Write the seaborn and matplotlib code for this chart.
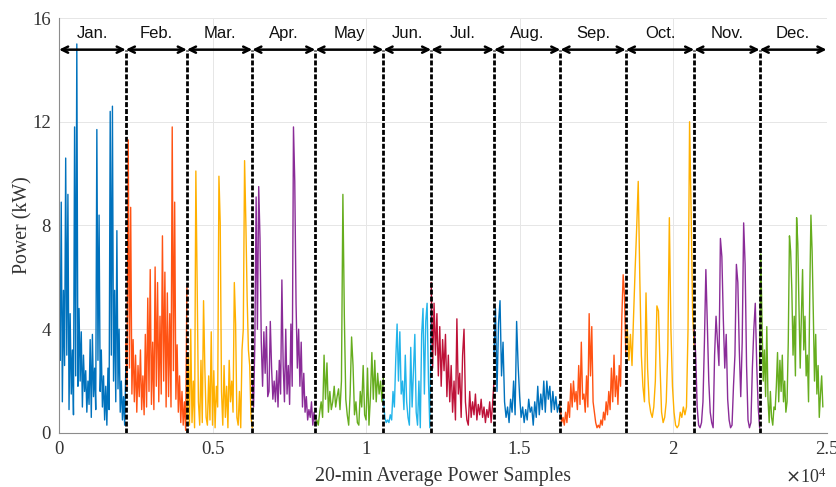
import numpy as np
import pandas as pd
import matplotlib
matplotlib.use("Agg")
import matplotlib.pyplot as plt
import seaborn as sns

months = ["Jan.", "Feb.", "Mar.", "Apr.", "May", "Jun.", "Jul.", "Aug.", "Sep.", "Oct.", "Nov.", "Dec."]
bounds = [0, 2175, 4165, 6295, 8350, 10568, 12123, 14168, 16331, 18461, 20691, 22821, 24880]

jan = [4.3, 2.8, 8.9, 1.2, 5.5, 2.6, 10.6, 3.0, 9.2, 0.9, 4.6, 1.5, 3.2, 0.7, 11.8, 2.2, 15.0, 1.8,
       4.8, 2.0, 3.9, 1.0, 3.0, 1.6, 2.4, 0.8, 2.0, 1.1, 3.6, 0.6, 3.8, 1.4, 2.5, 0.9, 11.7, 2.8,
       8.4, 1.6, 3.2, 1.0, 2.2, 0.5, 1.8, 0.3, 2.5, 0.9, 12.4, 3.0, 12.6, 2.0, 5.5, 1.2, 7.8, 1.7,
       4.0, 0.8, 2.0, 0.5, 1.4, 0.3, 2.5]
feb = [3.5, 1.8, 11.3, 2.5, 8.7, 1.5, 3.6, 1.2, 3.0, 0.8, 2.6, 1.4, 3.2, 0.9, 2.2, 0.7, 3.8, 1.0,
       5.2, 1.6, 6.3, 1.1, 3.5, 0.9, 6.4, 1.8, 5.8, 1.2, 4.5, 1.5, 7.6, 2.0, 6.2, 1.0, 5.4, 1.4,
       4.6, 1.0, 11.8, 2.4, 8.9, 1.3, 3.4, 0.8, 2.2, 0.4, 1.6, 0.3, 1.2, 0.1, 5.6]
mar = [0.5, 3.0, 0.3, 4.0, 0.4, 2.0, 0.2, 10.1, 5.8, 1.2, 0.3, 2.8, 0.4, 5.1, 2.5, 0.6, 0.3, 2.2,
       0.5, 3.9, 0.3, 2.4, 0.2, 1.8, 1.0, 9.9, 8.1, 1.6, 0.3, 2.6, 0.6, 1.8, 0.2, 2.8, 1.2, 2.0,
       0.8, 5.8, 4.2, 0.6, 0.3, 1.6, 0.2, 3.2, 4.0, 10.5, 8.1, 5.2, 3.2, 2.6, 0.6, 0.2]
apr = [2.0, 1.0, 3.5, 9.1, 4.0, 9.5, 7.5, 3.5, 1.8, 3.9, 2.3, 4.1, 1.4, 1.6, 4.3, 2.5, 1.3, 2.0,
       1.2, 2.4, 1.0, 2.8, 1.5, 5.9, 2.6, 1.2, 4.0, 1.5, 2.6, 1.1, 4.2, 1.8, 11.8, 9.7, 5.0, 2.5,
       4.0, 1.8, 3.5, 1.0, 2.3, 0.8, 1.4, 0.5, 0.9, 0.6, 1.2, 0.3, 0.8, 0.4]
may = [0.3, 0.5, 0.3, 0.8, 1.2, 0.6, 3.0, 1.3, 2.7, 0.8, 1.6, 0.9, 1.2, 1.8, 1.0, 1.4, 1.7, 0.9,
       2.0, 9.2, 4.5, 1.3, 0.7, 0.3, 1.5, 3.7, 2.6, 0.7, 1.2, 0.4, 0.3, 1.6, 1.0, 2.6, 0.7, 0.5,
       2.5, 0.3, 1.4, 3.1, 1.3, 2.8, 1.2, 2.3, 1.5, 2.0, 1.2, 2.2]
jun = [1.3, 0.6, 0.4, 0.5, 0.4, 0.7, 0.5, 1.6, 1.0, 2.8, 4.2, 2.0, 3.9, 1.5, 2.0, 0.9, 3.0, 1.2,
       0.6, 0.3, 3.3, 1.0, 2.4, 3.8, 0.8, 0.3, 2.0, 0.2, 3.8, 4.8, 1.5, 4.3, 5.0, 2.0, 0.2, 4.9]
jul = [5.8, 2.5, 5.0, 3.0, 4.6, 2.2, 4.1, 1.8, 3.6, 2.4, 3.8, 1.4, 3.0, 1.2, 2.6, 0.8, 2.0, 0.5,
       4.4, 1.5, 2.3, 0.6, 3.0, 4.0, 1.2, 0.5, 0.3, 1.6, 0.6, 1.2, 0.7, 1.5, 0.5, 1.1, 0.7, 1.3,
       0.6, 1.0, 0.4, 0.9, 0.6, 1.2, 0.4, 1.1, 2.0]
aug = [3.0, 4.8, 1.6, 4.2, 5.1, 2.2, 3.5, 1.2, 0.6, 1.0, 0.4, 1.3, 0.8, 2.0, 0.7, 4.3, 2.6, 1.4,
       0.6, 1.0, 0.4, 0.9, 0.5, 1.3, 0.8, 1.0, 0.3, 1.2, 0.6, 1.8, 0.7, 1.5, 0.9, 2.0, 0.8, 2.0,
       1.3, 1.8, 0.8, 1.6, 0.9, 1.4, 0.8, 1.1, 0.7]
sep = [1.0, 0.4, 0.6, 0.3, 0.8, 0.4, 1.2, 0.6, 1.9, 1.0, 2.0, 1.2, 1.6, 0.9, 2.6, 1.1, 3.5, 1.3,
       1.5, 0.8, 2.2, 1.0, 4.6, 2.2, 4.1, 1.2, 0.8, 0.4, 0.2, 0.3, 0.2, 0.5, 0.3, 0.8, 0.5, 1.2,
       0.7, 1.6, 0.9, 2.5, 1.2, 3.0, 1.4, 2.2, 1.1, 2.6, 1.8, 4.5, 6.1, 5.3, 3.0]
oct_ = [3.5, 4.0, 2.8, 3.8, 2.6, 4.5, 6.3, 7.9, 9.7, 6.0, 3.0, 1.8, 1.2, 5.4, 2.5, 1.2, 0.8, 0.6,
        1.0, 2.0, 4.9, 4.7, 2.6, 0.8, 0.4, 0.6, 1.2, 3.2, 8.3, 4.0, 1.8, 0.8, 0.3, 0.2, 0.3, 0.8,
        0.6, 1.0, 0.7, 1.0, 4.0, 12.0, 8.5, 4.5, 3.3]
nov = [4.0, 3.0, 1.0, 0.3, 0.2, 0.4, 1.2, 3.5, 6.3, 4.2, 2.0, 0.8, 0.4, 0.2, 3.0, 4.5, 3.5, 2.6,
       7.5, 6.8, 4.4, 2.5, 3.8, 1.3, 0.5, 0.2, 0.3, 1.8, 3.0, 6.5, 5.8, 3.2, 1.4, 3.5, 8.1, 6.5,
       2.6, 0.5, 0.2, 0.4, 2.5, 4.0, 5.0, 2.6, 1.0, 0.2]
dec = [2.6, 6.9, 4.2, 2.0, 3.2, 1.4, 4.1, 1.3, 0.4, 1.6, 0.6, 0.3, 1.0, 0.9, 1.8, 3.1, 1.2, 2.8,
       1.6, 3.0, 1.2, 2.0, 0.8, 1.2, 3.5, 7.6, 7.0, 5.5, 3.0, 4.5, 2.2, 8.3, 7.3, 4.8, 2.5, 4.5,
       6.3, 3.2, 4.5, 2.2, 3.0, 1.2, 5.3, 8.4, 7.0, 4.6, 2.0, 3.8, 1.5, 2.6, 0.6, 1.5, 2.2, 1.0]

series = [jan, feb, mar, apr, may, jun, jul, aug, sep, oct_, nov, dec]
colors = ["#0072BD", "#FF5314", "#FFB000", "#8A2C98", "#66AD1E", "#22B4EA",
          "#BE1238", "#0072BD", "#FF5314", "#FFB000", "#8A2C98", "#66AD1E"]

frames = []
for i, (m, vals) in enumerate(zip(months, series)):
    xs = np.linspace(bounds[i], bounds[i + 1], len(vals))
    frames.append(pd.DataFrame({"sample": xs, "power": vals, "month": m}))
df = pd.concat(frames, ignore_index=True)

sns.set_style("white")
plt.rcParams["font.family"] = ["Liberation Serif", "DejaVu Serif"]

fig = plt.figure(figsize=(8.37, 4.87), dpi=100)
ax = fig.add_axes([0.0705, 0.111, 0.917, 0.852])

sns.lineplot(data=df, x="sample", y="power", hue="month", hue_order=months,
             palette=dict(zip(months, colors)), legend=False, linewidth=1.0,
             estimator=None, sort=True, ax=ax)

ax.set_xlim(0, 25000)
ax.set_ylim(0, 16)
ax.set_xticks([0, 5000, 10000, 15000, 20000, 25000])
ax.set_xticklabels(["0", "0.5", "1", "1.5", "2", "2.5"])
ax.set_yticks([0, 4, 8, 12, 16])
ax.set_yticklabels(["0", "4", "8", "12", "16"])
ax.grid(True, color="#E6E6E6", linewidth=0.7)
ax.set_axisbelow(True)
for s in ["top", "right"]:
    ax.spines[s].set_visible(False)
for s in ["left", "bottom"]:
    ax.spines[s].set_color("#8C8C8C")
    ax.spines[s].set_linewidth(0.8)
ax.tick_params(direction="in", length=4, width=0.7, color="#8C8C8C",
               labelsize=13.5, labelcolor="#333333", pad=6)

ax.set_xlabel("20-min Average Power Samples", fontsize=14.3, color="#333333", labelpad=6)
ax.set_ylabel("Power (kW)", fontsize=14.3, color="#333333")
ax.yaxis.set_label_coords(-0.034, 0.5)
ax.text(1.0, -0.106, r"$\times\mathregular{10^4}$", transform=ax.transAxes, ha="right",
        va="center", fontsize=13, color="#333333")

arrow_y = 14.78
label_y = 15.4
for b in bounds[1:-1]:
    ax.plot([b, b], [0, arrow_y], color="black", lw=2.0, dashes=(1.8, 0.7), zorder=4)
edges = bounds[:-1] + [25000]
for i, m in enumerate(months):
    x0, x1 = edges[i], edges[i + 1]
    ax.annotate("", xy=(x1, arrow_y), xytext=(x0, arrow_y),
                arrowprops=dict(arrowstyle="<->,head_length=0.45,head_width=0.22",
                                color="black", lw=1.8, shrinkA=0, shrinkB=0), zorder=5)
    ax.text((x0 + x1) / 2, label_y, m, ha="center", va="center", fontsize=12,
            family=["Liberation Sans", "DejaVu Sans"], color="#111111")

fig.savefig("out.png", dpi=100)
